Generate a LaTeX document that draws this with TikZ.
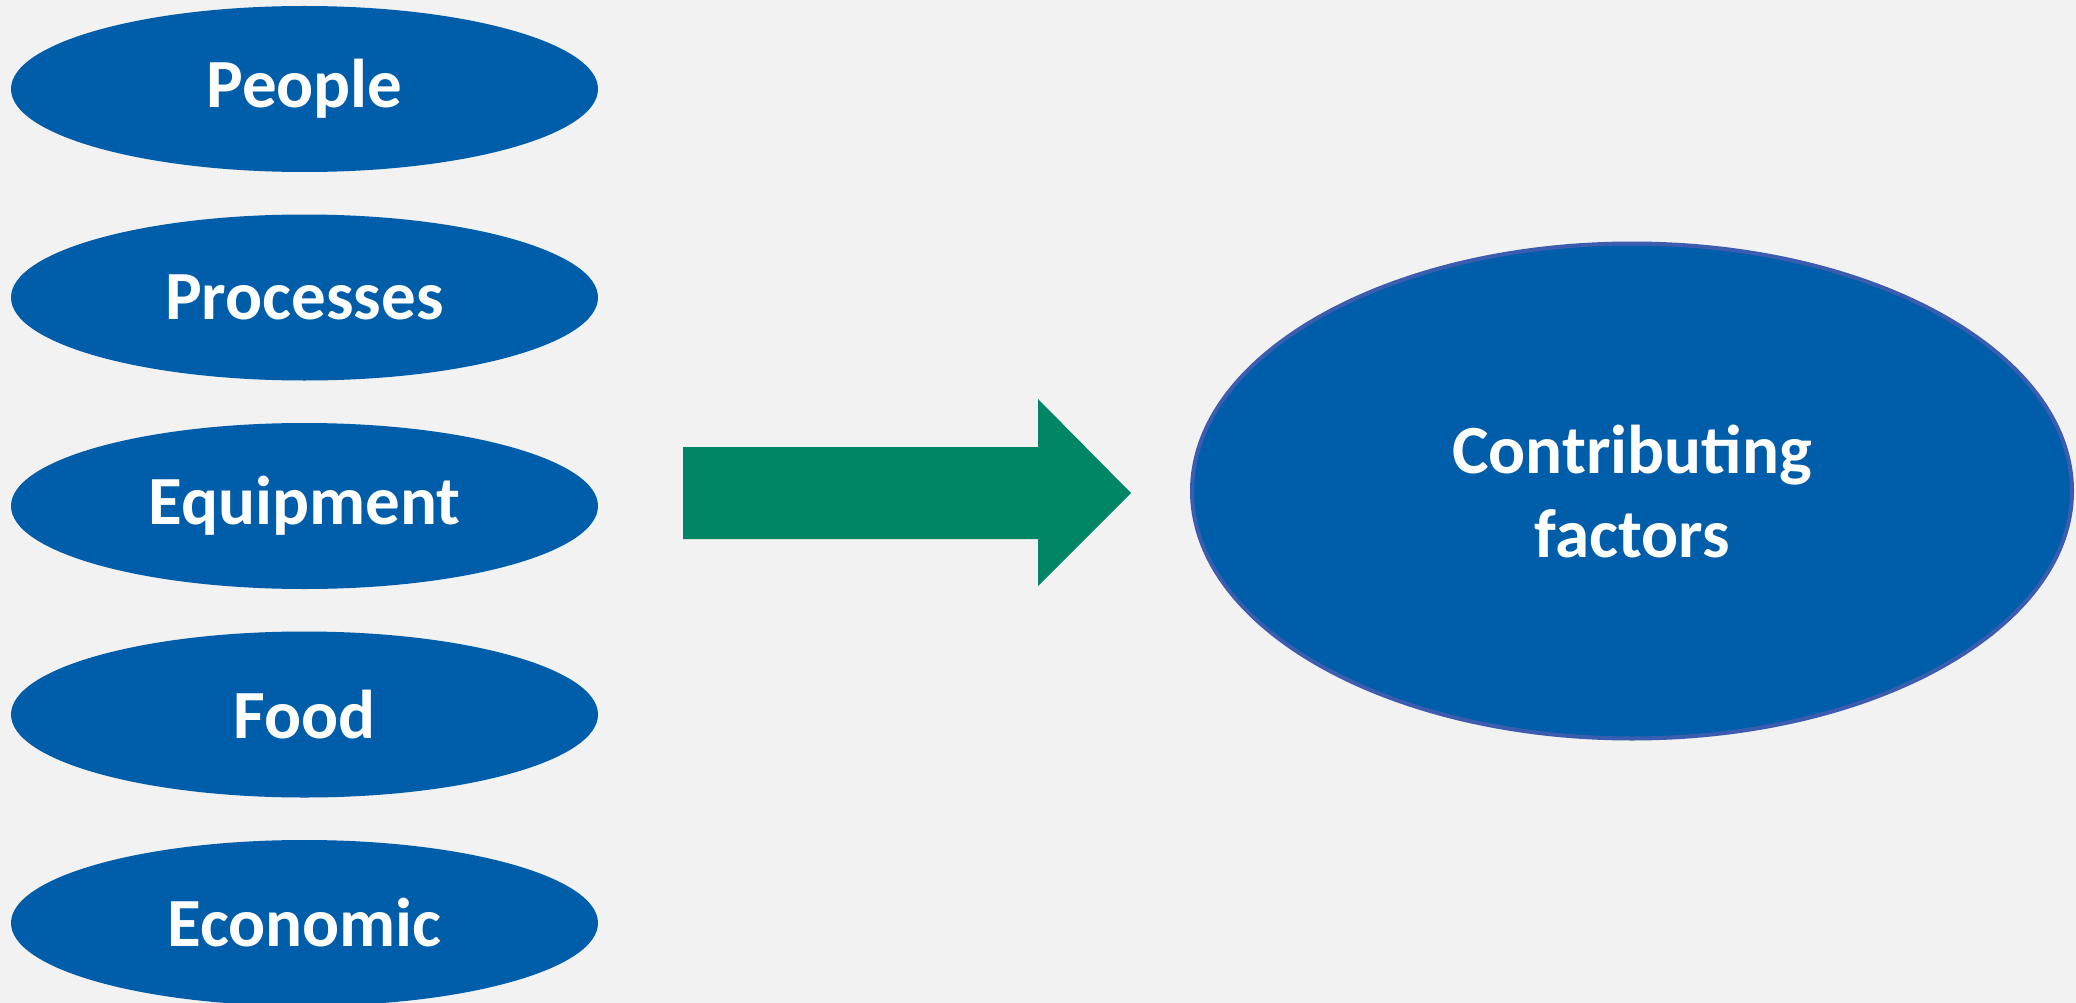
\documentclass[tikz,border=0pt]{standalone}
\usepackage{fontspec}
\setmainfont{Carlito}
\usetikzlibrary{shapes.geometric}
\definecolor{pagebg}{HTML}{F2F2F2}
\definecolor{ovalblue}{HTML}{005DAA}
\definecolor{ovalrim}{HTML}{3C5DAF}
\definecolor{arrowgreen}{HTML}{008565}
\begin{document}
\begin{tikzpicture}[x=1pt,y=-1pt,
  factor/.style={ellipse, fill=ovalblue, text=white, inner sep=0pt,
    minimum width=587pt, minimum height=166pt,
    font=\fontsize{69}{84}\selectfont\bfseries},
  outcome/.style={ellipse, fill=ovalblue, draw=ovalrim, line width=4pt,
    text=white, inner sep=0pt, align=center,
    minimum width=880pt, minimum height=495pt,
    font=\fontsize{69}{84}\selectfont\bfseries}]
  % page
  \fill[pagebg] (0,0) rectangle (2076,1003);
  \useasboundingbox (0,0) rectangle (2076,1003);

  % the five factor ovals
  \node[factor] (people)    at (304.5,89)    {People};
  \node[factor] (processes) at (304.5,297.5) {Processes};
  \node[factor] (equipment) at (304.5,506)   {Equipment};
  \node[factor] (food)      at (304.5,714.5) {Food};
  \node[factor] (economic)  at (304.5,923)   {Economic};

  % result oval
  \node[outcome] (contrib) at (1632,491) {Contributing\\factors};

  % block arrow
  \fill[arrowgreen] (683,447) -- (1038,447) -- (1038,399) -- (1131,493)
    -- (1038,586) -- (1038,539) -- (683,539) -- cycle;
\end{tikzpicture}
\end{document}
